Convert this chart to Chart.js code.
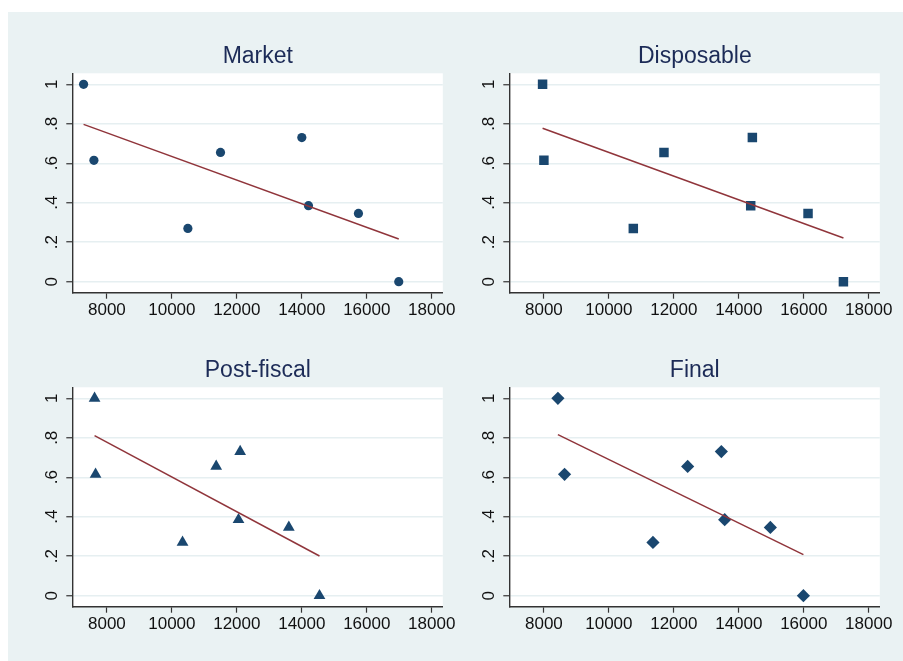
<!DOCTYPE html>
<html>
<head>
<meta charset="utf-8">
<script src="https://cdn.jsdelivr.net/npm/chart.js@4.4.1/dist/chart.umd.min.js"></script>
<style>
html, body { margin:0; padding:0; background:#ffffff; overflow:hidden; width:903px; height:661px; }
#bg { position:absolute; left:8px; top:12px; width:895px; height:649px; background:#eaf2f3; }
canvas { position:absolute; }
</style>
</head>
<body>
<div id="bg"></div>
<canvas id="c1" width="455" height="330" style="left:8px;top:12px"></canvas>
<canvas id="c2" width="455" height="330" style="left:445px;top:12px"></canvas>
<canvas id="c3" width="455" height="330" style="left:8px;top:326px"></canvas>
<canvas id="c4" width="455" height="330" style="left:445px;top:326px"></canvas>
<script>
// ---- data ----
const panelTitles = ['Market', 'Disposable', 'Post-fiscal', 'Final'];
const shareValues = [1, 0.615, 0.27, 0.655, 0.73, 0.385, 0.346, 0];
const marketIncome     = [7282, 7600, 10492, 11497, 14000, 14205, 15743, 16984];
const disposableIncome = [7959, 8000, 10752, 11696, 14417, 14366, 16131, 17220];
const postFiscalIncome = [7620, 7651, 10328, 11364, 12102, 12051, 13600, 14544];
const finalIncome      = [8431, 8636, 11357, 12425, 13462, 13565, 14971, 15988];
const marketFitX     = [7282, 16984];  const marketFitY     = [0.797, 0.216];
const disposableFitX = [7959, 17220];  const disposableFitY = [0.777, 0.221];
const postFiscalFitX = [7620, 14544];  const postFiscalFitY = [0.811, 0.201];
const finalFitX      = [8431, 15988];  const finalFitY      = [0.816, 0.208];
const xTicks = [8000, 10000, 12000, 14000, 16000, 18000];
const yTicks = [0, 0.2, 0.4, 0.6, 0.8, 1];
const yTickLabels = ['0', '.2', '.4', '.6', '.8', '1'];

// ---- styling ----
Chart.defaults.font.family = "'Liberation Sans', Arial, Helvetica, sans-serif";
const MARKER = '#1a476f';
const FITLINE = '#90353b';
const AXIS = '#333333';

const panels = [
  { id: 'c1', title: panelTitles[0], xs: marketIncome,     fx: marketFitX,     fy: marketFitY,     style: 'circle',   r: 4.6 },
  { id: 'c2', title: panelTitles[1], xs: disposableIncome, fx: disposableFitX, fy: disposableFitY, style: 'rect',     r: 6.7 },
  { id: 'c3', title: panelTitles[2], xs: postFiscalIncome, fx: postFiscalFitX, fy: postFiscalFitY, style: 'triangle', r: 6.8 },
  { id: 'c4', title: panelTitles[3], xs: finalIncome,      fx: finalFitX,      fy: finalFitY,      style: 'rectRot',  r: 6.6 }
];

const plotBg = {
  id: 'plotBg',
  beforeDraw(chart) {
    const a = chart.chartArea, ctx = chart.ctx;
    ctx.save();
    ctx.fillStyle = '#ffffff';
    ctx.fillRect(a.left, a.top, a.right - a.left, a.bottom - a.top);
    ctx.restore();
  }
};

panels.forEach(p => {
  new Chart(document.getElementById(p.id), {
    type: 'scatter',
    data: {
      datasets: [
        {
          type: 'line',
          data: p.fx.map((x, i) => ({ x: x, y: p.fy[i] })),
          borderColor: FITLINE,
          borderWidth: 1.5,
          pointRadius: 0,
          fill: false,
          tension: 0
        },
        {
          type: 'scatter',
          data: p.xs.map((x, i) => ({ x: x, y: shareValues[i] })),
          pointStyle: p.style,
          pointRadius: p.r,
          pointBackgroundColor: MARKER,
          pointBorderColor: MARKER,
          pointBorderWidth: 0
        }
      ]
    },
    options: {
      responsive: false,
      devicePixelRatio: 1,
      animation: false,
      events: [],
      layout: { padding: { left: 34.8, right: 20.2, top: 0, bottom: 19.7 } },
      plugins: {
        legend: { display: false },
        tooltip: { enabled: false },
        title: {
          display: true,
          text: p.title,
          fullSize: false,
          color: '#1c2b57',
          font: { size: 23, weight: 'normal' },
          padding: { top: 31.2, bottom: 2.5 }
        }
      },
      scales: {
        x: {
          type: 'linear',
          min: 6950,
          max: 18340,
          afterBuildTicks: (s) => { s.ticks = xTicks.map(v => ({ value: v })); },
          afterFit: (s) => { s.height = 30; },
          ticks: {
            color: '#111111',
            font: { size: 17 },
            padding: 1,
            maxRotation: 0,
            autoSkip: false,
            callback: (v) => String(v)
          },
          grid: { drawOnChartArea: false, drawTicks: true, tickLength: 6.4, tickColor: AXIS, tickWidth: 1.2 },
          border: { display: true, color: AXIS, width: 1.4 }
        },
        y: {
          type: 'linear',
          min: -0.0537,
          max: 1.0557,
          afterBuildTicks: (s) => { s.ticks = yTicks.map(v => ({ value: v })); },
          afterFit: (s) => { s.width = 30; },
          ticks: {
            color: '#111111',
            font: { size: 17 },
            padding: 6.6,
            minRotation: 90,
            maxRotation: 90,
            crossAlign: 'center',
            autoSkip: false,
            callback: (v, i) => yTickLabels[i]
          },
          grid: { color: '#e6eff1', lineWidth: 1.5, drawTicks: true, tickLength: 6.5, tickColor: AXIS, tickWidth: 1.2 },
          border: { display: true, color: AXIS, width: 1.4 }
        }
      }
    },
    plugins: [plotBg]
  });
});
</script>
</body>
</html>
